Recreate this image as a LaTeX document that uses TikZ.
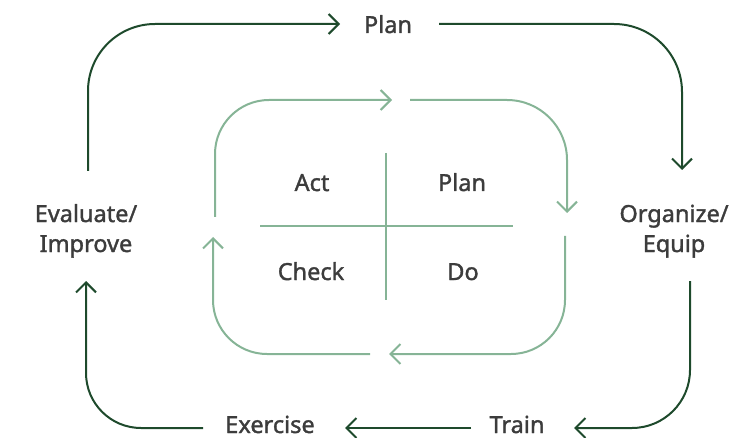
\documentclass[tikz,border=0pt]{standalone}
\usepackage{fontspec}
\setmainfont{Noto Sans}[FakeBold=1.5]
\usetikzlibrary{arrows.meta}
\definecolor{dkgreen}{HTML}{1E4A2C}
\definecolor{ltgreen}{HTML}{86B496}
\definecolor{txtgray}{HTML}{3C3C3C}
\begin{document}
\begin{tikzpicture}[x=1pt,y=-1pt,
  lbl/.style={text=txtgray, font=\fontsize{23.5}{30}\selectfont, align=center, inner sep=0pt, anchor=base},
  outerarrow/.style={draw=dkgreen, line width=2pt, -{Straight Barb[length=10pt,width=20pt]}},
  innerarrow/.style={draw=ltgreen, line width=2pt, -{Straight Barb[length=10pt,width=20pt]}},
  crossline/.style={draw=ltgreen, line width=1.2pt}]
\useasboundingbox (0,0) rectangle (754,438);
% outer labels
\node[lbl] (plan) at (388,33) {Plan};
\node[lbl] (org) at (674,252) {Organize/\\Equip};
\node[lbl] (train) at (517,433) {Train};
\node[lbl] (exer) at (270,433) {Exercise};
\node[lbl] (eval) at (86,252) {Evaluate/\\Improve};
% inner labels
\node[lbl] (act) at (312,191) {Act};
\node[lbl] (iplan) at (462,191) {Plan};
\node[lbl] (check) at (311,280) {Check};
\node[lbl] (do) at (463,280) {Do};
% outer coordinates
\coordinate (evalOut) at (88,171);
\coordinate (planIn) at (340,24);
\coordinate (planOut) at (439,24);
\coordinate (orgIn) at (682,170);
\coordinate (orgOut) at (690,281);
\coordinate (trainIn) at (574,428);
\coordinate (trainOut) at (471,428);
\coordinate (exerIn) at (345,428);
\coordinate (exerOut) at (203,428);
\coordinate (evalIn) at (86,281);
% outer cycle
\draw[outerarrow, rounded corners=67pt] (evalOut) |- (planIn);
\draw[outerarrow, rounded corners=68pt] (planOut) -| (orgIn);
\draw[outerarrow, rounded corners=58pt] (orgOut) |- (trainIn);
\draw[outerarrow] (trainOut) -- (exerIn);
\draw[outerarrow, rounded corners=55pt] (exerOut) -| (evalIn);
% inner coordinates
\coordinate (aOut) at (215,217);
\coordinate (pIn) at (392,100);
\coordinate (pOut) at (410,100);
\coordinate (dIn) at (567,213);
\coordinate (dOut) at (565,236);
\coordinate (cIn) at (389,354);
\coordinate (cOut) at (370,354);
\coordinate (aIn) at (213,237);
% inner cycle
\draw[innerarrow, rounded corners=54pt] (aOut) |- (pIn);
\draw[innerarrow, rounded corners=60pt] (pOut) -| (dIn);
\draw[innerarrow, rounded corners=54pt] (dOut) |- (cIn);
\draw[innerarrow, rounded corners=54pt] (cOut) -| (aIn);
% cross
\coordinate (vTop) at (386,153);
\coordinate (vBot) at (386,300);
\coordinate (hL) at (260,226);
\coordinate (hR) at (513,226);
\draw[crossline] (vTop) -- (vBot);
\draw[crossline] (hL) -- (hR);
\end{tikzpicture}
\end{document}
